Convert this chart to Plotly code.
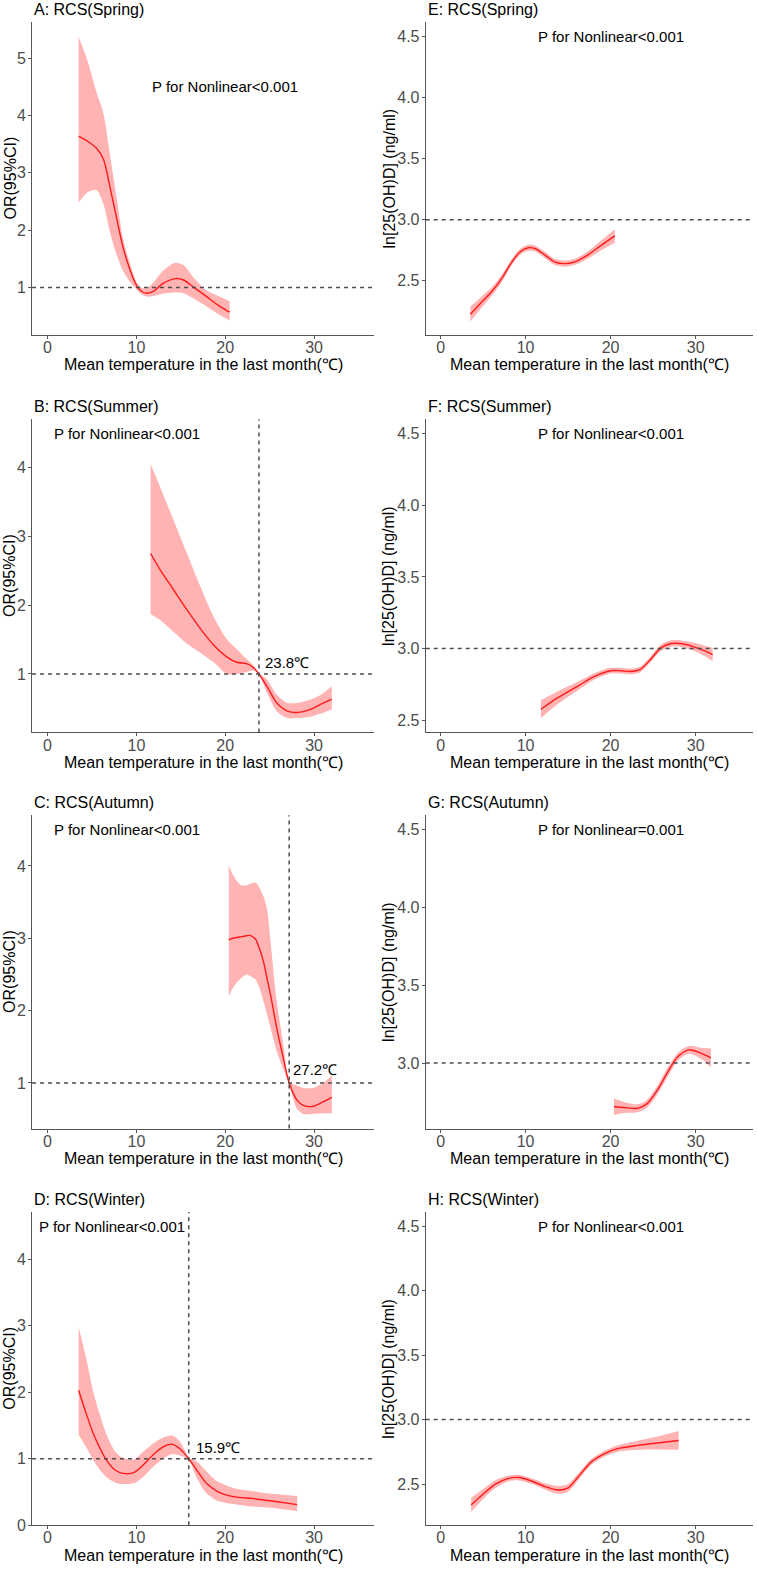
import plotly.graph_objects as go

W, H = 757, 1577

# ---------------- data ----------------
# A: OR, Spring
A_x = [3.5, 4.5, 5.5, 6.3, 7.0, 7.8, 8.5, 9.3, 10.0, 10.6, 11.2, 11.9, 13.0, 14.4, 15.3, 16.4, 17.9, 19.4, 20.5]
A_fit = [3.64, 3.55, 3.43, 3.23, 2.77, 2.19, 1.70, 1.30, 1.04, 0.93, 0.90, 0.93, 1.07, 1.155, 1.13, 1.01, 0.84, 0.67, 0.57]
A_up = [5.37, 4.95, 4.41, 4.03, 3.34, 2.54, 1.85, 1.41, 1.10, 0.99, 0.99, 1.08, 1.29, 1.43, 1.39, 1.18, 0.95, 0.84, 0.76]
A_lo = [2.48, 2.66, 2.70, 2.45, 1.98, 1.56, 1.29, 1.09, 0.97, 0.88, 0.84, 0.85, 0.89, 0.91, 0.90, 0.81, 0.67, 0.52, 0.42]

# B: OR, Summer
B_x = [11.6, 12.7, 14.2, 15.7, 17.2, 18.7, 20.2, 21.3, 22.4, 23.2, 23.8, 24.7, 25.8, 27.0, 28.1, 29.6, 30.9, 32.0]
B_fit = [2.75, 2.51, 2.22, 1.93, 1.66, 1.42, 1.245, 1.17, 1.15, 1.09, 1.0, 0.82, 0.58, 0.46, 0.44, 0.485, 0.57, 0.63]
B_up = [4.05, 3.71, 3.23, 2.75, 2.27, 1.83, 1.50, 1.36, 1.22, 1.12, 1.01, 0.92, 0.70, 0.58, 0.58, 0.63, 0.71, 0.82]
B_lo = [1.87, 1.78, 1.61, 1.44, 1.31, 1.17, 1.0, 1.0, 1.03, 1.05, 0.99, 0.73, 0.46, 0.36, 0.36, 0.38, 0.43, 0.485]

# C: OR, Autumn
C_x = [20.4, 20.9, 21.7, 22.4, 22.8, 23.4, 23.9, 24.3, 24.7, 25.1, 25.8, 26.6, 27.2, 28.1, 28.8, 29.8, 30.9, 32.0]
C_fit = [2.98, 3.0, 3.02, 3.035, 3.04, 2.99, 2.84, 2.68, 2.45, 2.22, 1.76, 1.31, 1.0, 0.76, 0.69, 0.675, 0.73, 0.80]
C_up = [4.01, 3.87, 3.74, 3.73, 3.75, 3.77, 3.69, 3.58, 3.41, 2.96, 2.13, 1.49, 1.02, 0.96, 0.93, 0.93, 0.99, 1.10]
C_lo = [2.20, 2.32, 2.44, 2.50, 2.48, 2.43, 2.30, 2.13, 1.95, 1.76, 1.44, 1.17, 0.98, 0.64, 0.57, 0.57, 0.58, 0.58]

# D: OR, Winter
D_x = [3.5, 4.4, 5.15, 5.9, 6.65, 7.6, 8.5, 9.7, 10.8, 11.9, 13.0, 14.0, 14.9, 15.9, 16.8, 17.9, 19.1, 20.9, 23.2, 25.5, 28.1]
D_fit = [2.03, 1.66, 1.38, 1.16, 0.975, 0.83, 0.78, 0.79, 0.91, 1.06, 1.18, 1.22, 1.15, 1.0, 0.83, 0.63, 0.51, 0.43, 0.40, 0.36, 0.31]
D_up = [2.98, 2.48, 2.0, 1.66, 1.36, 1.11, 1.01, 0.99, 1.11, 1.23, 1.32, 1.35, 1.26, 1.02, 0.96, 0.81, 0.66, 0.56, 0.51, 0.47, 0.44]
D_lo = [1.36, 1.16, 0.98, 0.83, 0.72, 0.64, 0.62, 0.63, 0.73, 0.88, 1.0, 1.07, 1.05, 0.98, 0.71, 0.48, 0.37, 0.32, 0.28, 0.26, 0.21]

# E: ln[25(OH)D], Spring
E_x = [3.5, 4.9, 6.0, 7.2, 8.4, 9.35, 10.3, 11.1, 12.3, 13.4, 14.6, 15.8, 17.3, 18.9, 20.5]
E_fit = [2.226, 2.33, 2.41, 2.52, 2.655, 2.736, 2.77, 2.764, 2.71, 2.655, 2.64, 2.655, 2.71, 2.79, 2.867]
E_lo = [2.166, 2.285, 2.375, 2.49, 2.63, 2.711, 2.745, 2.739, 2.685, 2.63, 2.615, 2.63, 2.68, 2.75, 2.812]
E_up = [2.286, 2.375, 2.445, 2.55, 2.68, 2.761, 2.795, 2.789, 2.735, 2.68, 2.665, 2.68, 2.74, 2.83, 2.922]

# F: ln[25(OH)D], Summer
F_x = [11.8, 13.8, 16.2, 18.1, 20.0, 21.2, 22.3, 23.5, 24.7, 25.9, 27.1, 28.2, 29.8, 31.0, 32.0]
F_fit = [2.576, 2.657, 2.74, 2.805, 2.845, 2.845, 2.84, 2.855, 2.924, 3.005, 3.035, 3.035, 3.012, 2.985, 2.958]
F_lo = [2.513, 2.612, 2.71, 2.783, 2.825, 2.825, 2.82, 2.835, 2.904, 2.983, 3.013, 3.013, 2.984, 2.949, 2.912]
F_up = [2.639, 2.702, 2.77, 2.827, 2.865, 2.865, 2.86, 2.875, 2.944, 3.027, 3.057, 3.057, 3.04, 3.021, 3.004]

# G: ln[25(OH)D], Autumn
G_x = [20.4, 21.6, 23.2, 24.3, 25.5, 26.7, 27.9, 29.2, 30.6, 31.8]
G_fit = [2.72, 2.715, 2.71, 2.74, 2.826, 2.94, 3.04, 3.085, 3.064, 3.034]
G_lo = [2.667, 2.68, 2.685, 2.715, 2.798, 2.91, 3.015, 3.06, 3.029, 2.974]
G_up = [2.773, 2.75, 2.735, 2.765, 2.854, 2.97, 3.065, 3.11, 3.099, 3.094]

# H: ln[25(OH)D], Winter
H_x = [3.6, 4.9, 6.4, 8.0, 9.2, 10.7, 12.3, 13.8, 15.0, 16.2, 17.7, 19.3, 20.8, 23.2, 25.5, 28.0]
H_fit = [2.338, 2.415, 2.497, 2.544, 2.55, 2.523, 2.48, 2.454, 2.47, 2.556, 2.67, 2.736, 2.774, 2.80, 2.818, 2.838]
H_lo = [2.283, 2.375, 2.467, 2.522, 2.528, 2.501, 2.455, 2.424, 2.44, 2.531, 2.648, 2.714, 2.749, 2.765, 2.768, 2.765]
H_up = [2.393, 2.455, 2.527, 2.566, 2.572, 2.545, 2.505, 2.484, 2.5, 2.581, 2.692, 2.758, 2.799, 2.835, 2.868, 2.911]

titles = ["A: RCS(Spring)", "B: RCS(Summer)", "C: RCS(Autumn)", "D: RCS(Winter)",
          "E: RCS(Spring)", "F: RCS(Summer)", "G: RCS(Autumn)", "H: RCS(Winter)"]
p_texts = ["P for Nonlinear<0.001", "P for Nonlinear<0.001", "P for Nonlinear<0.001", "P for Nonlinear<0.001",
           "P for Nonlinear<0.001", "P for Nonlinear<0.001", "P for Nonlinear=0.001", "P for Nonlinear<0.001"]
p_pos = [(20, 4.5), (8.9, 4.5), (8.9, 4.5), (7.3, 4.5), (20, 4.5), (20, 4.5), (20, 4.5), (20, 4.5)]
ref_lines = [1, 1, 1, 1, 3.0, 3.0, 3.0, 3.0]
cut_temps = [None, 23.8, 27.2, 15.9, None, None, None, None]
cut_labels = [None, "23.8℃", "27.2℃", "15.9℃", None, None, None, None]
cut_label_pos = [None, (24.3, 1.17), (27.35, 1.19), (16.5, 1.17), None, None, None, None]
x_title = "Mean temperature in the last month(℃)"
y_titles = ["OR(95%CI)"] * 4 + ["ln[25(OH)D] (ng/ml)"] * 4
y_ranges = [[0.17, 5.63], [0.15, 4.70], [0.37, 4.70], [0.0, 4.71],
            [2.055, 4.62], [2.414, 4.60], [2.58, 4.59], [2.18, 4.61]]
y_ticks = [[1, 2, 3, 4, 5], [1, 2, 3, 4], [1, 2, 3, 4], [0, 1, 2, 3, 4],
           [2.5, 3.0, 3.5, 4.0, 4.5], [2.5, 3.0, 3.5, 4.0, 4.5], [3.0, 3.5, 4.0, 4.5], [2.5, 3.0, 3.5, 4.0, 4.5]]
x_ticks = [0, 10, 20, 30]
x_range = [-1.75, 36.75]

series = [(A_x, A_fit, A_lo, A_up), (B_x, B_fit, B_lo, B_up), (C_x, C_fit, C_lo, C_up), (D_x, D_fit, D_lo, D_up),
          (E_x, E_fit, E_lo, E_up), (F_x, F_fit, F_lo, F_up), (G_x, G_fit, G_lo, G_up), (H_x, H_fit, H_lo, H_up)]

# ---------------- layout geometry (pixels) ----------------
col_px = [(32, 374), (425.7, 753)]
row_px = [(22, 337), (421.7, 736.7), (820, 1135), (1219, 1534)]
ytitle_xpx = [10, 389]

def px_x(p):
    return p / W

def px_y(p):
    return 1 - p / H

FONT = "Arial, Liberation Sans, sans-serif"
RIBBON = "#FFB3B3"
LINE = "#FF1A1A"
AXC = "#555555"
DASHC = "#4D4D4D"

fig = go.Figure()
layout = dict(width=W, height=H, margin=dict(l=0, r=0, t=0, b=0),
              plot_bgcolor="white", paper_bgcolor="white", showlegend=False,
              font=dict(family=FONT, color="black"))
shapes = []
annotations = []

for i in range(8):
    col = i // 4
    row = i % 4
    n = i + 1
    xa = "x" if n == 1 else f"x{n}"
    ya = "y" if n == 1 else f"y{n}"
    xs, fit, lo, up = series[i]
    # ribbon
    fig.add_trace(go.Scatter(x=xs, y=up, xaxis=xa, yaxis=ya, mode="lines",
                             line=dict(width=0, shape="spline", smoothing=0.8),
                             hoverinfo="skip"))
    fig.add_trace(go.Scatter(x=xs, y=lo, xaxis=xa, yaxis=ya, mode="lines",
                             line=dict(width=0, shape="spline", smoothing=0.8),
                             fill="tonexty", fillcolor=RIBBON, hoverinfo="skip"))
    fig.add_trace(go.Scatter(x=xs, y=fit, xaxis=xa, yaxis=ya, mode="lines",
                             line=dict(color=LINE, width=1.4, shape="spline", smoothing=0.8)))

    x0p, x1p = col_px[col]
    y0p, y1p = row_px[row]
    axis_common = dict(showline=True, linecolor=AXC, linewidth=1, mirror=False,
                       ticks="outside", ticklen=3, tickcolor=AXC, tickwidth=1,
                       tickfont=dict(size=16, color="#4D4D4D", family=FONT),
                       showgrid=False, zeroline=False, fixedrange=True)
    layout["xaxis" if n == 1 else f"xaxis{n}"] = dict(
        domain=[px_x(x0p), px_x(x1p)], anchor=ya, range=x_range,
        tickvals=x_ticks, ticktext=[str(v) for v in x_ticks],
        ticklabelstandoff=-5, **axis_common)
    if col == 0:
        ttext = [str(v) for v in y_ticks[i]]
    else:
        ttext = [f"{v:.1f}" for v in y_ticks[i]]
    layout["yaxis" if n == 1 else f"yaxis{n}"] = dict(
        domain=[px_y(y1p), px_y(y0p)], anchor=xa, range=y_ranges[i],
        tickvals=y_ticks[i], ticktext=ttext, ticklabelstandoff=-1, **axis_common)

    dash = "4px,4px"
    shapes.append(dict(type="line", xref=f"{xa} domain", yref=ya, x0=0, x1=1,
                       y0=ref_lines[i], y1=ref_lines[i],
                       line=dict(color=DASHC, width=1.5, dash=dash), layer="above"))
    if cut_temps[i] is not None:
        shapes.append(dict(type="line", xref=xa, yref=f"{ya} domain",
                           x0=cut_temps[i], x1=cut_temps[i], y0=0, y1=1,
                           line=dict(color=DASHC, width=1.5, dash=dash), layer="above"))
        lx, ly = cut_label_pos[i]
        annotations.append(dict(x=lx, y=ly, xref=xa, yref=ya, text=cut_labels[i],
                                showarrow=False, xanchor="left", yanchor="middle",
                                font=dict(size=15, color="black", family=FONT)))

    # P for nonlinear
    px_, py_ = p_pos[i]
    annotations.append(dict(x=px_, y=py_, xref=xa, yref=ya, text=p_texts[i],
                            showarrow=False, xanchor="center", yanchor="middle",
                            font=dict(size=15, color="black", family=FONT)))
    # panel title
    annotations.append(dict(x=px_x(x0p), y=px_y(y0p - 12.5), xref="paper", yref="paper",
                            text=titles[i], showarrow=False, xanchor="left", yanchor="middle",
                            font=dict(size=16, color="black", family=FONT)))
    # x-axis title
    annotations.append(dict(x=px_x((x0p + x1p) / 2), y=px_y(y1p + 30), xref="paper", yref="paper",
                            text=x_title, showarrow=False, xanchor="center", yanchor="middle",
                            font=dict(size=16, color="black", family=FONT)))
    # y-axis title
    annotations.append(dict(x=px_x(ytitle_xpx[col]), y=px_y((y0p + y1p) / 2), xref="paper", yref="paper",
                            text=y_titles[i], showarrow=False, textangle=-90,
                            xanchor="center", yanchor="middle",
                            font=dict(size=16, color="black", family=FONT)))

layout["shapes"] = shapes
layout["annotations"] = annotations
fig.update_layout(**layout)
fig.write_html("out.html", config={"displayModeBar": False},
               post_script="document.body.style.margin='0';document.body.style.overflow='hidden';")
